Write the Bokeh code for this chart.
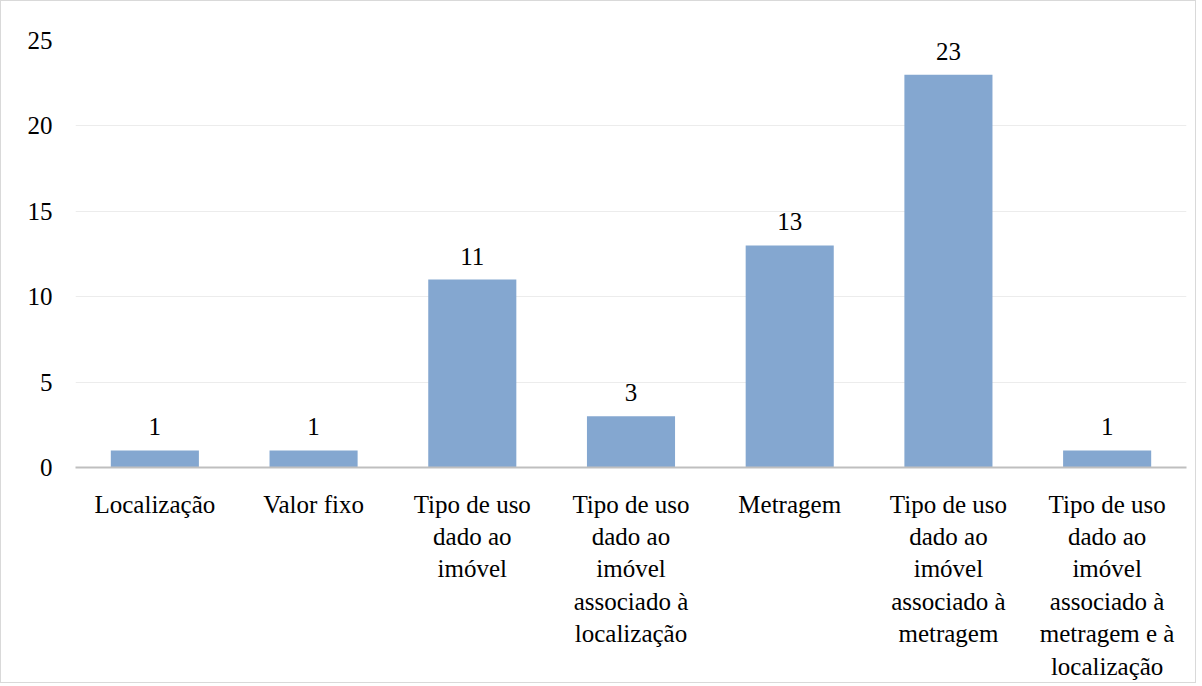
from bokeh.plotting import figure
from bokeh.models import ColumnDataSource, FixedTicker
from bokeh.core.properties import value
from bokeh.embed import file_html
from bokeh.resources import INLINE

categories = [
    "Localização",
    "Valor fixo",
    "Tipo de uso\ndado ao\nimóvel",
    "Tipo de uso\ndado ao\nimóvel\nassociado à\nlocalização",
    "Metragem",
    "Tipo de uso\ndado ao\nimóvel\nassociado à\nmetragem",
    "Tipo de uso\ndado ao\nimóvel\nassociado à\nmetragem e à\nlocalização",
]
values = [1, 1, 11, 3, 13, 23, 1]
y_ticks = [0, 5, 10, 15, 20, 25]

FONT = "Liberation Serif"
FS = "25px"

source = ColumnDataSource(dict(cat=categories, val=values, lab=[str(v) for v in values]))

p = figure(
    x_range=categories, y_range=(0, 25),
    frame_width=1111, frame_height=427,
    min_border_left=74, min_border_right=9, min_border_top=39, min_border_bottom=0,
    output_backend="svg", toolbar_location=None,
)
p.styles = {"border": "1px solid #d9d9d9"}
p.outline_line_color = None
p.background_fill_color = "white"
p.border_fill_color = "white"

p.vbar(x="cat", top="val", width=0.555, source=source,
       fill_color="#84a7d0", line_color=None)

p.text(x="cat", y="val", text="lab", source=source,
       text_align="center", text_baseline="bottom", y_offset=-15,
       text_font=value(FONT), text_font_size=FS, text_color="#000000")

p.xgrid.grid_line_color = None
p.ygrid.grid_line_color = "#ececec"
p.ygrid.grid_line_width = 1
p.yaxis.ticker = FixedTicker(ticks=y_ticks)

p.yaxis.axis_line_color = None
p.yaxis.major_tick_line_color = None
p.yaxis.minor_tick_line_color = None
p.yaxis.major_label_standoff = 17
p.yaxis.major_label_text_font = FONT
p.yaxis.major_label_text_font_size = FS
p.yaxis.major_label_text_color = "#000000"

p.xaxis.axis_line_color = "#bfbfbf"
p.xaxis.axis_line_width = 2
p.xaxis.major_tick_line_color = None
p.xaxis.minor_tick_line_color = None
p.xaxis.major_label_standoff = 17
p.xaxis.major_label_text_font = FONT
p.xaxis.major_label_text_font_size = FS
p.xaxis.major_label_text_color = "#000000"
p.xaxis.major_label_text_line_height = 1.2

open("out.html", "w").write(file_html(p, INLINE))
